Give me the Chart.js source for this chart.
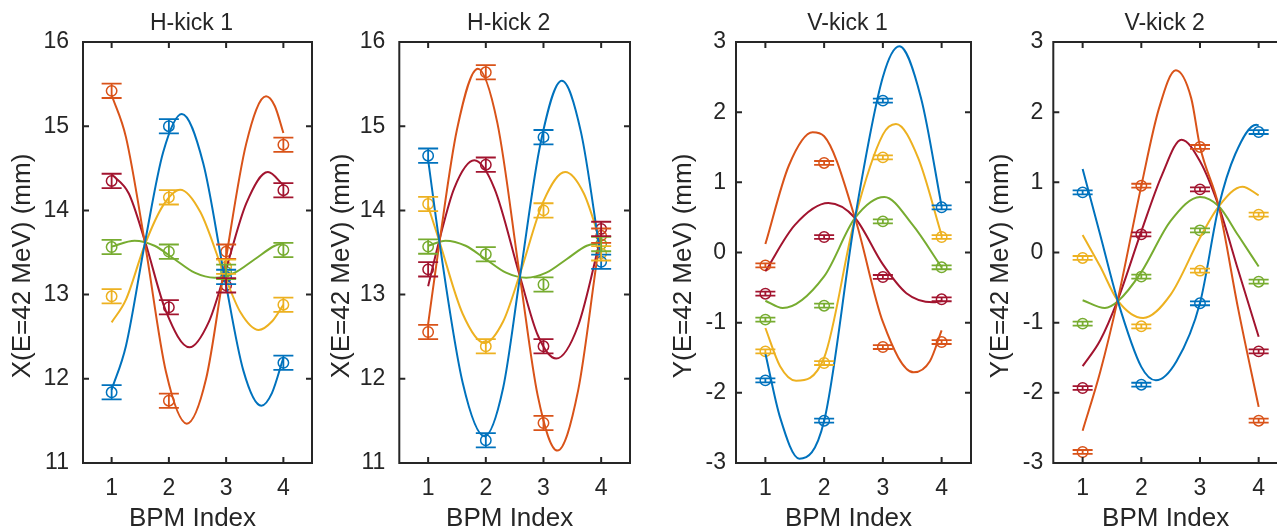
<!DOCTYPE html>
<html>
<head>
<meta charset="utf-8">
<script src="https://cdn.jsdelivr.net/npm/chart.js@4/dist/chart.umd.min.js"></script>
<style>
  html, body { margin: 0; padding: 0; background: #fff; overflow: hidden; width: 1277px; height: 530px; }
  canvas.panel { position: absolute; top: 0; }
</style>
</head>
<body>
<canvas id="h1" class="panel" width="320" height="530" style="left:0px"></canvas>
<canvas id="h2" class="panel" width="330" height="530" style="left:320px"></canvas>
<canvas id="v1" class="panel" width="320" height="530" style="left:660px"></canvas>
<canvas id="v2" class="panel" width="330" height="530" style="left:975px"></canvas>
<script>
// ---- data -------------------------------------------------------------
const bpmIndex = [1, 2, 3, 4];
const xTickValues = [1, 2, 3, 4];
const hTickValues = [11, 12, 13, 14, 15, 16];
const vTickValues = [-3, -2, -1, 0, 1, 2, 3];
const seriesColors = ['#0072BD', '#D95319', '#EDB120', '#77AC30', '#A2142F'];

// H-kick 1: measured X at each BPM (one row per corrector setting)
const h1Meas = [
  [11.84, 15.00, 13.21, 12.19],
  [15.42, 11.74, 13.51, 14.78],
  [12.98, 14.155, 13.33, 12.88],
  [13.565, 13.51, 13.27, 13.53],
  [14.35, 12.85, 13.11, 14.24]
];
const h1Err = [
  [0.085, 0.085, 0.085, 0.085],
  [0.085, 0.085, 0.085, 0.085],
  [0.085, 0.085, 0.085, 0.085],
  [0.085, 0.085, 0.085, 0.085],
  [0.085, 0.085, 0.085, 0.085]
];
// H-kick 1: fitted betatron trajectories, [BPM index, X]
const h1Fit = [
  [[1, 11.87], [1.25, 12.39], [1.584, 13.625], [1.9, 14.69], [2.226, 15.145], [2.6, 14.56], [2.967, 13.23], [3.3, 12.10], [3.615, 11.68], [3.8, 11.83], [4, 12.25]],
  [[1, 15.37], [1.25, 14.87], [1.584, 13.6], [1.95, 12.08], [2.313, 11.467], [2.65, 12.0], [2.967, 13.3], [3.35, 14.79], [3.697, 15.355], [3.85, 15.24], [4, 14.92]],
  [[1, 12.67], [1.25, 12.94], [1.584, 13.6], [1.9, 14.06], [2.197, 14.246], [2.55, 13.98], [2.967, 13.24], [3.25, 12.79], [3.569, 12.58], [3.8, 12.68], [4, 12.88]],
  [[1, 13.57], [1.4, 13.64], [1.75, 13.58], [2.1, 13.42], [2.45, 13.26], [2.8, 13.2], [3.15, 13.26], [3.5, 13.42], [3.85, 13.58], [4, 13.61]],
  [[1, 14.43], [1.3, 14.2], [1.584, 13.63], [1.95, 12.8], [2.36, 12.374], [2.7, 12.68], [2.967, 13.23], [3.35, 14.08], [3.73, 14.456], [4, 14.3]]
];

// H-kick 2
const h2Meas = [
  [14.65, 11.27, 14.87, 13.39],
  [12.556, 15.64, 11.475, 13.70],
  [14.076, 12.386, 14.0, 13.49],
  [13.57, 13.48, 13.12, 13.60],
  [13.30, 14.543, 12.386, 13.78]
];
const h2Err = [
  [0.085, 0.085, 0.085, 0.085],
  [0.085, 0.085, 0.085, 0.085],
  [0.085, 0.085, 0.085, 0.085],
  [0.085, 0.085, 0.085, 0.085],
  [0.085, 0.085, 0.085, 0.085]
];
const h2Fit = [
  [[1, 14.6], [1.192, 13.64], [1.6, 11.95], [1.978, 11.317], [2.3, 11.89], [2.59, 13.2], [2.95, 14.8], [3.318, 15.54], [3.65, 14.93], [3.96, 13.6], [4, 13.42]],
  [[1, 12.65], [1.192, 13.6], [1.5, 14.96], [1.862, 15.683], [2.2, 15.04], [2.59, 13.22], [2.9, 11.8], [3.242, 11.147], [3.6, 11.86], [3.96, 13.56], [4, 13.72]],
  [[1, 14.05], [1.192, 13.64], [1.6, 12.77], [1.978, 12.425], [2.3, 12.68], [2.59, 13.24], [3.0, 14.11], [3.376, 14.456], [3.7, 14.2], [4, 13.6]],
  [[1, 13.58], [1.3, 13.64], [1.65, 13.58], [2.0, 13.42], [2.35, 13.26], [2.7, 13.2], [3.05, 13.26], [3.4, 13.42], [3.75, 13.58], [4, 13.61]],
  [[1, 13.1], [1.192, 13.64], [1.45, 14.26], [1.8, 14.595], [2.15, 14.26], [2.59, 13.22], [2.9, 12.52], [3.22, 12.24], [3.6, 12.63], [4, 13.7]]
];

// V-kick 1: measured Y
const v1Meas = [
  [-1.822, -2.397, 2.164, 0.644],
  [-0.183, 1.276, -1.347, -1.276],
  [-1.409, -1.575, 1.356, 0.221],
  [-0.957, -0.758, 0.444, -0.211],
  [-0.587, 0.221, -0.349, -0.667]
];
const v1Err = [
  [0.028, 0.028, 0.028, 0.028],
  [0.028, 0.028, 0.028, 0.028],
  [0.028, 0.028, 0.028, 0.028],
  [0.028, 0.028, 0.028, 0.028],
  [0.028, 0.028, 0.028, 0.028]
];
const v1Fit = [
  [[1, -1.44], [1.25, -2.35], [1.579, -2.938], [2.0, -2.40], [2.526, 0.492], [3.0, 2.5], [3.28, 2.938], [3.65, 2.2], [4, 0.66]],
  [[1, 0.12], [1.4, 1.24], [1.805, 1.713], [2.0, 1.656], [2.526, 0.492], [3.0, -0.99], [3.524, -1.708], [3.8, -1.55], [4, -1.11]],
  [[1, -1.076], [1.25, -1.62], [1.522, -1.827], [2.0, -1.50], [2.526, 0.492], [3.0, 1.68], [3.223, 1.831], [3.6, 1.35], [4, 0.245]],
  [[1, -0.687], [1.295, -0.791], [2.0, -0.34], [2.526, 0.492], [3.025, 0.791], [3.5, 0.4], [4, -0.211]],
  [[1, -0.268], [1.5, 0.39], [2.072, 0.705], [2.526, 0.492], [3.0, -0.17], [3.4, -0.58], [3.85, -0.71], [4, -0.69]]
];

// V-kick 2
const v2Meas = [
  [0.857, -1.884, -0.724, 1.717],
  [-2.843, 0.952, 1.504, -2.397],
  [-0.078, -1.052, -0.259, 0.539],
  [-1.014, -0.344, 0.316, -0.416],
  [-1.931, 0.259, 0.90, -1.409]
];
const v2Err = [
  [0.028, 0.028, 0.028, 0.028],
  [0.028, 0.028, 0.028, 0.028],
  [0.028, 0.028, 0.028, 0.028],
  [0.028, 0.028, 0.028, 0.028],
  [0.028, 0.028, 0.028, 0.028]
];
const v2Fit = [
  [[1, 1.19], [1.3, 0.25], [1.596, -0.682], [2.0, -1.63], [2.248, -1.822], [2.6, -1.55], [3.0, -0.72], [3.32, 0.658], [3.6, 1.4], [3.96, 1.822], [4, 1.81]],
  [[1, -2.54], [1.3, -1.7], [1.596, -0.682], [2.0, 0.95], [2.3, 2.05], [2.588, 2.596], [2.85, 2.2], [3.0, 1.51], [3.32, 0.658], [3.65, -0.8], [4, -2.2]],
  [[1, 0.25], [1.3, -0.2], [1.596, -0.682], [2.032, -0.933], [2.5, -0.6], [3.0, 0.21], [3.32, 0.658], [3.723, 0.938], [4, 0.815]],
  [[1, -0.68], [1.38, -0.791], [1.596, -0.7], [2.0, -0.28], [2.5, 0.45], [3.0, 0.791], [3.32, 0.658], [3.65, 0.245], [4, -0.2]],
  [[1, -1.62], [1.3, -1.25], [1.596, -0.682], [2.0, 0.3], [2.35, 1.1], [2.685, 1.608], [3.0, 1.3], [3.32, 0.658], [3.65, -0.25], [4, -1.2]]
];

// ---- drawing ----------------------------------------------------------
const INK = '#262626';
const FONT = '"Liberation Sans", Arial, Helvetica, sans-serif';
const TICK_LEN = 6;
const CAP_HALF = 10;

// axes box, inward tick marks on all four sides, error bars and labels
const boxPlugin = {
  id: 'matlabBox',
  afterDatasetsDraw(chart) {
    const { ctx, scales: { x, y } } = chart;
    chart.data.datasets.forEach(ds => {
      if (!ds.errors) return;
      ctx.save();
      ctx.strokeStyle = ds.borderColor;
      ctx.lineWidth = 1.8;
      ds.data.forEach((p, i) => {
        const px = x.getPixelForValue(p.x);
        const lo = y.getPixelForValue(p.y - ds.errors[i]);
        const hi = y.getPixelForValue(p.y + ds.errors[i]);
        ctx.beginPath();
        ctx.moveTo(px, lo); ctx.lineTo(px, hi);
        ctx.moveTo(px - CAP_HALF, lo); ctx.lineTo(px + CAP_HALF, lo);
        ctx.moveTo(px - CAP_HALF, hi); ctx.lineTo(px + CAP_HALF, hi);
        ctx.stroke();
      });
      ctx.restore();
    });
  },
  afterDraw(chart, args, opts) {
    const { ctx, chartArea: a, scales: { x, y } } = chart;
    ctx.save();
    ctx.strokeStyle = INK;
    ctx.lineWidth = 2;
    ctx.strokeRect(a.left, a.top, a.right - a.left, a.bottom - a.top);
    ctx.beginPath();
    x.ticks.forEach(t => {
      const px = x.getPixelForValue(t.value);
      ctx.moveTo(px, a.bottom); ctx.lineTo(px, a.bottom - TICK_LEN);
      ctx.moveTo(px, a.top); ctx.lineTo(px, a.top + TICK_LEN);
    });
    y.ticks.forEach(t => {
      const py = y.getPixelForValue(t.value);
      ctx.moveTo(a.left, py); ctx.lineTo(a.left + TICK_LEN, py);
      ctx.moveTo(a.right, py); ctx.lineTo(a.right - TICK_LEN, py);
    });
    ctx.stroke();

    const cx = (a.left + a.right) / 2;
    ctx.fillStyle = INK;
    ctx.textAlign = 'center';
    ctx.textBaseline = 'middle';
    ctx.font = `23px ${FONT}`;
    ctx.fillText(opts.title, cx - 6, 24);
    ctx.font = `26px ${FONT}`;
    ctx.fillText('BPM Index', cx - 5, 519);
    ctx.translate(opts.yLabelX, 266);
    ctx.rotate(-Math.PI / 2);
    ctx.fillText(opts.yLabel, 0, 0);
    ctx.restore();
  }
};

function buildDatasets(meas, errs, fits) {
  const sets = [];
  fits.forEach((fit, i) => {
    sets.push({
      data: fit.map(p => ({ x: p[0], y: p[1] })),
      borderColor: seriesColors[i],
      borderWidth: 2,
      pointRadius: 0,
      fill: false,
      cubicInterpolationMode: 'monotone'
    });
  });
  meas.forEach((row, i) => {
    sets.push({
      data: row.map((v, k) => ({ x: bpmIndex[k], y: v })),
      errors: errs[i],
      borderColor: seriesColors[i],
      backgroundColor: 'rgba(0,0,0,0)',
      showLine: false,
      pointStyle: 'circle',
      pointRadius: 5.2,
      pointBorderWidth: 1.5,
      pointBackgroundColor: 'rgba(0,0,0,0)',
      pointBorderColor: seriesColors[i]
    });
  });
  return sets;
}

function makePanel(id, p) {
  new Chart(document.getElementById(id), {
    type: 'line',
    data: { datasets: buildDatasets(p.meas, p.errs, p.fits) },
    options: {
      responsive: false,
      animation: false,
      events: [],
      layout: { padding: { top: 42, right: p.padRight, left: 0, bottom: 0 } },
      plugins: {
        legend: { display: false },
        tooltip: { enabled: false },
        matlabBox: { title: p.title, yLabel: p.yLabel, yLabelX: p.yLabelX }
      },
      scales: {
        x: {
          type: 'linear', min: 0.5, max: 4.5,
          afterBuildTicks: s => { s.ticks = xTickValues.map(v => ({ value: v })); },
          afterFit: s => { s.height = 67; },
          grid: { display: false, drawTicks: false }, border: { display: false },
          ticks: { color: INK, padding: 12, font: { family: FONT, size: 23 } }
        },
        y: {
          type: 'linear', min: p.yMin, max: p.yMax,
          afterBuildTicks: s => { s.ticks = p.yTicks.map(v => ({ value: v })); },
          afterFit: s => { s.width = p.axisWidth; },
          grid: { display: false, drawTicks: false }, border: { display: false },
          ticks: { color: INK, padding: p.yTickPad, font: { family: FONT, size: 23 } }
        }
      }
    },
    plugins: [boxPlugin]
  });
}

makePanel('h1', { meas: h1Meas, errs: h1Err, fits: h1Fit, title: 'H-kick 1', yLabel: 'X(E=42 MeV) (mm)',
  yMin: 11, yMax: 16, yTicks: hTickValues, axisWidth: 83, padRight: 8, yTickPad: 14, yLabelX: 23 });
makePanel('h2', { meas: h2Meas, errs: h2Err, fits: h2Fit, title: 'H-kick 2', yLabel: 'X(E=42 MeV) (mm)',
  yMin: 11, yMax: 16, yTicks: hTickValues, axisWidth: 79.3, padRight: 20, yTickPad: 14, yLabelX: 22 });
makePanel('v1', { meas: v1Meas, errs: v1Err, fits: v1Fit, title: 'V-kick 1', yLabel: 'Y(E=42 MeV) (mm)',
  yMin: -3, yMax: 3, yTicks: vTickValues, axisWidth: 76, padRight: 9, yTickPad: 10, yLabelX: 24 });
makePanel('v2', { meas: v2Meas, errs: v2Err, fits: v2Fit, title: 'V-kick 2', yLabel: 'Y(E=42 MeV) (mm)',
  yMin: -3, yMax: 3, yTicks: vTickValues, axisWidth: 78.3, padRight: 17, yTickPad: 10, yLabelX: 26 });
</script>
</body>
</html>
